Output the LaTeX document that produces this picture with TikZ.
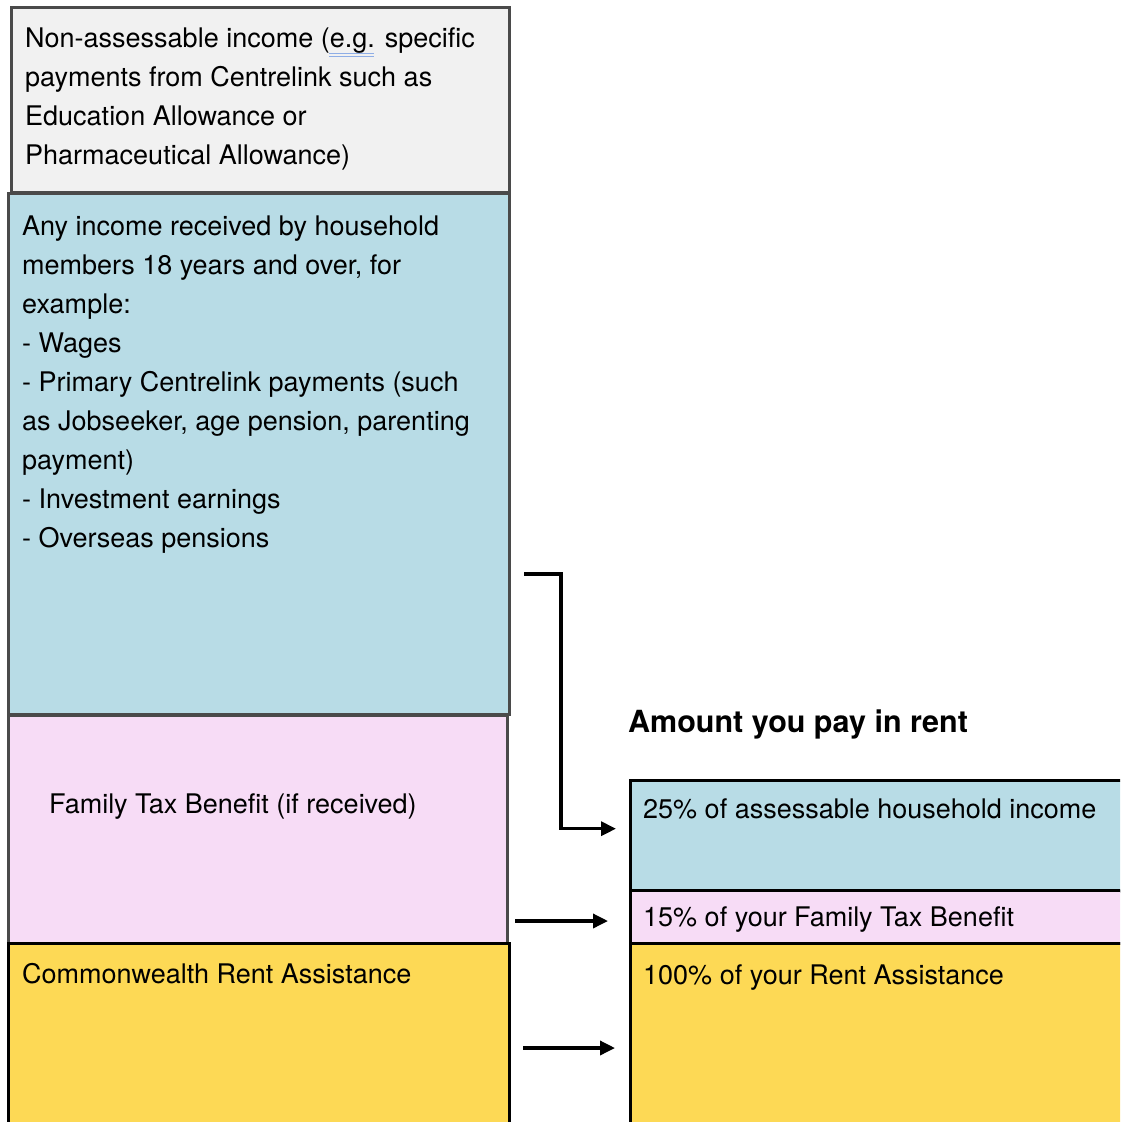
\documentclass[tikz,border=0pt]{standalone}
\usepackage{fontspec}
\setmainfont{TeX Gyre Heros}
\usepackage{tikz}
\usetikzlibrary{positioning,arrows.meta}

\definecolor{greybox}{HTML}{F1F1F1}
\definecolor{bluebox}{HTML}{B8DCE6}
\definecolor{pinkbox}{HTML}{F7DCF6}
\definecolor{yellowbox}{HTML}{FDD955}
\definecolor{edgegrey}{HTML}{4A4A4A}
\definecolor{spellblue}{HTML}{8FAEE6}

\begin{document}
\begin{tikzpicture}[x=1pt,y=-1pt,
	every node/.style={black},
	box/.style={draw=edgegrey,line width=2.5pt,rectangle,inner sep=0pt,anchor=north west},
	boldbox/.style={box,draw=black,line width=3.4pt},
	label/.style={anchor=north west,inner sep=0pt,align=left,
		font=\fontsize{27}{39}\selectfont},
	feed/.style={-{Triangle[length=15pt,width=14pt]},line width=3.4pt}]
	\clip (0,0) rectangle (1120,1122);
	\useasboundingbox (0,0) rectangle (1120,1122);

	% left column
	\node[box,fill=greybox,minimum width=498pt,minimum height=185pt] (nonassess) at (10,6) {};
	\node[box,fill=bluebox,minimum width=501pt,minimum height=521pt] (income) at (7,192) {};
	\node[box,fill=pinkbox,minimum width=499pt,minimum height=228pt] (ftb) at (7,714) {};
	\node[boldbox,fill=yellowbox,minimum width=501pt,minimum height=200pt] (cra) at (7,942) {};

	% right column
	\node[boldbox,fill=bluebox,minimum width=520pt,minimum height=111pt] (rentinc) at (629,779) {};
	\node[boldbox,fill=pinkbox,minimum width=520pt,minimum height=53pt] (rentftb) at (629,889) {};
	\node[boldbox,fill=yellowbox,minimum width=520pt,minimum height=200pt] (rentcra) at (629,942) {};

	% texts
	\node[label] (nonassesstxt) at (25,28) {Non-assessable income (e.g. specific\\
		payments from Centrelink such as\\ Education Allowance or\\
		Pharmaceutical Allowance)};
	\draw[spellblue,line width=1pt] (329,53) -- (374,53) (329,56.5) -- (374,56.5);
	\node[label] (incometxt) at (22,216) {Any income received by household\\
		members 18 years and over, for\\ example:\\ - Wages\\
		- Primary Centrelink payments (such\\
		as Jobseeker, age pension, parenting\\ payment)\\
		- Investment earnings\\ - Overseas pensions};
	\node[label] (ftbtxt) at (49,794) {Family Tax Benefit (if received)};
	\node[label] (cratxt) at (22,963) {Commonwealth Rent Assistance};
	\node[label] (rentinctxt) at (643,799) {25\% of assessable household income};
	\node[label] (rentftbtxt) at (643,907) {15\% of your Family Tax Benefit};
	\node[label] (rentcratxt) at (643,965) {100\% of your Rent Assistance};
	\node[anchor=north west,inner sep=0pt,font=\fontsize{30.5}{34}\bfseries\selectfont]
		(title) at (628,710) {Amount you pay in rent};

	% arrows
	\coordinate (incfrom) at (524,574);
	\coordinate (ftbfrom) at (515,921);
	\coordinate (crafrom) at (523,1048);
	\draw[feed] (incfrom) -- (561,574) |- ([xshift=-13pt,yshift=7.5pt]rentinc.west);
	\draw[feed] (ftbfrom) -- ([xshift=-21pt]rentftb.west |- ftbfrom);
	\draw[feed] (crafrom) -- ([xshift=-14pt]rentcra.west |- crafrom);
\end{tikzpicture}
\end{document}
